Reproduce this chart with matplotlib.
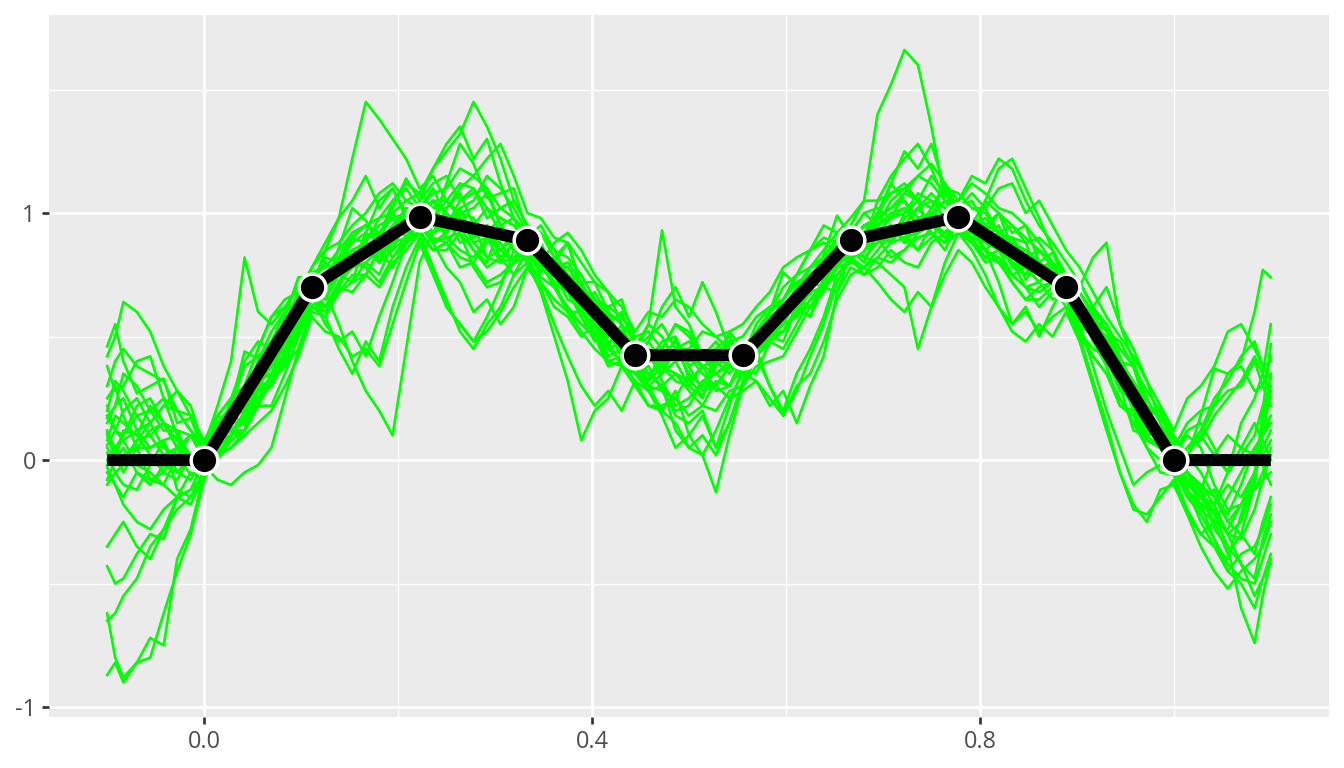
import matplotlib
matplotlib.use("Agg")
import matplotlib.pyplot as plt
from matplotlib.ticker import FixedLocator

# ---------------- data ----------------
x_grid = [-0.1, -0.0917, -0.0833, -0.0694, -0.0556, -0.0417, -0.0278, -0.0139, 0.0,
          0.0139, 0.0278, 0.0417, 0.0556, 0.0694, 0.0833, 0.0972, 0.1111,
          0.125, 0.1389, 0.1528, 0.1667, 0.1806, 0.1944, 0.2083, 0.2222,
          0.2361, 0.25, 0.2639, 0.2778, 0.2917, 0.3056, 0.3194, 0.3333,
          0.3472, 0.3611, 0.375, 0.3889, 0.4028, 0.4167, 0.4306, 0.4444,
          0.4583, 0.4722, 0.4861, 0.5, 0.5139, 0.5278, 0.5417, 0.5556,
          0.5694, 0.5833, 0.5972, 0.6111, 0.625, 0.6389, 0.6528, 0.6667,
          0.6806, 0.6944, 0.7083, 0.7222, 0.7361, 0.75, 0.7639, 0.7778,
          0.7917, 0.8056, 0.8194, 0.8333, 0.8472, 0.8611, 0.875, 0.8889,
          0.9028, 0.9167, 0.9306, 0.9444, 0.9583, 0.9722, 0.9861, 1.0,
          1.0139, 1.0278, 1.0417, 1.0556, 1.0694, 1.0833, 1.0917, 1.1]

sim_01 = [0.46, 0.55, 0.40, 0.27, 0.30, 0.33, 0.15, 0.17, 0.03, 0.02, 0.22, 0.44, 0.41, 0.40, 0.58, 0.74, 0.74, 0.70, 0.86, 1.02, 0.97, 0.88, 1.02, 1.14, 1.05, 0.96, 1.12, 1.28, 1.20, 1.06, 1.08, 1.10, 0.92, 0.76, 0.80, 0.88, 0.71, 0.57, 0.62, 0.65, 0.48, 0.34, 0.40, 0.49, 0.33, 0.26, 0.38, 0.52, 0.45, 0.43, 0.60, 0.76, 0.71, 0.67, 0.83, 0.99, 0.90, 0.84, 0.98, 1.12, 1.05, 0.94, 1.02, 1.12, 1.01, 0.88, 0.95, 1.00, 0.86, 0.73, 0.80, 0.84, 0.72, 0.56, 0.55, 0.53, 0.36, 0.20, 0.20, 0.20, 0.04, 0.01, 0.18, 0.37, 0.35, 0.40, 0.60, 0.77, 0.74]
sim_02 = [0.42, 0.50, 0.64, 0.60, 0.52, 0.38, 0.28, 0.22, 0.05, 0.18, 0.15, 0.16, 0.30, 0.45, 0.48, 0.50, 0.66, 0.55, 0.48, 0.52, 0.42, 0.58, 0.72, 0.88, 0.93, 0.85, 0.88, 0.95, 0.85, 0.80, 0.95, 0.98, 0.86, 0.74, 0.70, 0.70, 0.58, 0.48, 0.50, 0.52, 0.38, 0.32, 0.45, 0.55, 0.52, 0.42, 0.41, 0.45, 0.36, 0.35, 0.48, 0.60, 0.62, 0.58, 0.74, 0.85, 0.85, 0.80, 0.92, 0.95, 0.88, 0.98, 1.00, 0.90, 0.96, 0.98, 0.88, 0.92, 0.80, 0.70, 0.72, 0.78, 0.68, 0.55, 0.50, 0.45, 0.30, 0.12, 0.10, 0.12, -0.03, -0.05, -0.15, -0.18, -0.05, 0.15, 0.25, 0.35, 0.55]
sim_03 = [0.38, 0.28, 0.30, 0.40, 0.42, 0.25, 0.20, 0.18, 0.02, 0.08, 0.25, 0.30, 0.45, 0.58, 0.62, 0.60, 0.72, 0.82, 0.80, 0.78, 0.92, 1.05, 1.10, 1.00, 1.02, 1.10, 0.98, 0.88, 0.90, 0.95, 0.82, 0.75, 0.85, 0.82, 0.72, 0.60, 0.60, 0.58, 0.46, 0.55, 0.40, 0.30, 0.35, 0.40, 0.30, 0.25, 0.42, 0.48, 0.40, 0.52, 0.58, 0.55, 0.68, 0.78, 0.80, 0.78, 0.87, 0.95, 0.95, 0.88, 1.00, 1.05, 0.92, 0.85, 0.97, 0.92, 0.85, 0.90, 0.78, 0.75, 0.85, 0.78, 0.72, 0.62, 0.60, 0.55, 0.42, 0.30, 0.12, 0.10, 0.02, -0.08, -0.12, -0.22, -0.30, -0.25, -0.08, 0.20, 0.47]
sim_04 = [0.25, 0.30, 0.18, 0.05, 0.05, 0.08, -0.12, -0.15, -0.04, 0.08, 0.10, 0.12, 0.32, 0.48, 0.50, 0.52, 0.68, 0.65, 0.78, 0.90, 0.88, 0.80, 0.85, 0.98, 0.95, 0.92, 1.02, 1.08, 0.95, 0.82, 0.80, 0.88, 0.83, 0.78, 0.82, 0.88, 0.70, 0.58, 0.55, 0.60, 0.45, 0.40, 0.48, 0.50, 0.38, 0.28, 0.30, 0.38, 0.40, 0.50, 0.50, 0.48, 0.62, 0.72, 0.70, 0.68, 0.84, 0.92, 1.00, 1.12, 1.25, 1.18, 1.28, 1.10, 1.02, 1.05, 0.95, 0.85, 0.90, 0.88, 0.75, 0.80, 0.66, 0.52, 0.45, 0.42, 0.28, 0.30, 0.20, 0.08, 0.05, 0.15, 0.20, 0.22, 0.35, 0.38, 0.28, 0.30, 0.42]
sim_05 = [0.22, 0.12, 0.10, 0.22, 0.25, 0.15, 0.12, 0.00, -0.02, 0.12, 0.20, 0.22, 0.38, 0.42, 0.55, 0.68, 0.70, 0.62, 0.68, 0.75, 0.75, 0.85, 0.88, 0.90, 1.00, 1.05, 0.92, 1.02, 1.05, 1.15, 1.10, 1.02, 0.92, 0.88, 0.75, 0.65, 0.62, 0.68, 0.58, 0.50, 0.44, 0.45, 0.32, 0.22, 0.25, 0.32, 0.35, 0.38, 0.48, 0.45, 0.55, 0.62, 0.58, 0.70, 0.78, 0.80, 0.90, 0.82, 0.88, 0.95, 0.92, 0.85, 0.90, 0.98, 0.95, 0.88, 1.05, 1.18, 1.22, 1.10, 0.98, 0.85, 0.74, 0.62, 0.58, 0.52, 0.40, 0.38, 0.22, 0.05, -0.02, -0.15, -0.20, -0.25, -0.38, -0.30, -0.10, 0.15, 0.35]
sim_06 = [0.20, 0.32, 0.28, 0.18, 0.10, 0.15, 0.05, -0.02, 0.06, 0.22, 0.40, 0.82, 0.60, 0.55, 0.62, 0.70, 0.72, 0.80, 0.75, 0.72, 0.90, 0.95, 0.98, 0.90, 0.96, 1.00, 0.90, 0.85, 0.82, 0.90, 0.88, 0.80, 0.90, 0.95, 0.85, 0.75, 0.72, 0.72, 0.60, 0.48, 0.43, 0.55, 0.50, 0.40, 0.42, 0.38, 0.28, 0.30, 0.38, 0.45, 0.48, 0.45, 0.55, 0.65, 0.72, 0.85, 0.92, 0.90, 1.00, 1.08, 1.10, 1.05, 1.02, 1.10, 0.99, 0.95, 1.05, 1.00, 0.92, 0.95, 0.80, 0.75, 0.72, 0.62, 0.48, 0.38, 0.22, 0.20, 0.08, 0.05, -0.05, -0.12, -0.25, -0.35, -0.40, -0.22, -0.05, 0.10, 0.28]
sim_07 = [0.17, 0.22, 0.35, 0.30, 0.20, 0.25, 0.10, 0.00, 0.03, 0.15, 0.12, 0.12, 0.28, 0.42, 0.45, 0.50, 0.65, 0.60, 0.70, 0.80, 0.78, 0.72, 0.82, 0.90, 0.92, 0.85, 0.85, 0.92, 0.78, 0.70, 0.72, 0.80, 0.82, 0.72, 0.62, 0.58, 0.50, 0.55, 0.48, 0.38, 0.35, 0.38, 0.28, 0.20, 0.22, 0.32, 0.30, 0.25, 0.35, 0.45, 0.30, 0.18, 0.28, 0.42, 0.55, 0.72, 0.82, 0.75, 0.78, 0.85, 0.80, 0.78, 0.88, 0.92, 0.95, 0.88, 0.85, 0.82, 0.75, 0.70, 0.62, 0.68, 0.65, 0.55, 0.38, 0.20, 0.05, -0.10, -0.05, -0.02, 0.06, 0.02, 0.10, 0.22, 0.28, 0.30, 0.40, 0.30, 0.22]
sim_08 = [0.12, 0.00, 0.02, 0.05, -0.08, -0.05, 0.05, 0.02, -0.02, -0.08, -0.10, -0.05, -0.02, 0.05, 0.25, 0.45, 0.62, 0.58, 0.68, 0.72, 0.75, 0.85, 0.90, 0.98, 1.05, 1.12, 1.15, 1.05, 1.08, 1.10, 0.95, 0.88, 0.82, 0.80, 0.70, 0.62, 0.55, 0.52, 0.40, 0.38, 0.30, 0.22, 0.22, 0.25, 0.18, 0.22, 0.32, 0.30, 0.42, 0.55, 0.62, 0.65, 0.75, 0.85, 0.88, 0.85, 0.92, 1.00, 1.02, 0.98, 1.08, 1.15, 1.12, 1.05, 1.05, 1.12, 1.08, 1.02, 1.00, 0.95, 0.88, 0.80, 0.75, 0.72, 0.62, 0.52, 0.48, 0.38, 0.20, 0.18, 0.08, -0.05, -0.15, -0.12, -0.25, -0.18, -0.05, 0.05, 0.12]
sim_09 = [0.10, 0.02, -0.05, 0.05, 0.12, 0.15, 0.08, -0.02, 0.00, 0.12, 0.18, 0.20, 0.32, 0.45, 0.50, 0.62, 0.70, 0.68, 0.55, 0.40, 0.28, 0.20, 0.10, 0.45, 0.80, 0.92, 0.95, 1.05, 1.10, 0.98, 1.02, 0.98, 0.90, 0.85, 0.78, 0.70, 0.65, 0.62, 0.52, 0.42, 0.38, 0.35, 0.30, 0.18, 0.15, 0.20, 0.05, 0.15, 0.32, 0.45, 0.48, 0.52, 0.62, 0.58, 0.70, 0.78, 0.80, 0.88, 1.05, 1.15, 1.22, 1.28, 1.18, 1.05, 0.96, 0.90, 0.82, 0.80, 0.72, 0.65, 0.70, 0.72, 0.66, 0.60, 0.50, 0.42, 0.28, 0.25, 0.15, 0.05, 0.02, 0.10, 0.05, -0.10, -0.20, -0.18, -0.12, -0.05, 0.05]
sim_10 = [0.08, 0.18, 0.15, 0.10, 0.22, 0.15, 0.05, 0.10, 0.04, 0.12, 0.20, 0.25, 0.40, 0.52, 0.60, 0.65, 0.78, 0.88, 0.98, 1.22, 1.45, 1.38, 1.30, 1.22, 1.10, 1.15, 1.05, 0.98, 0.95, 1.02, 0.92, 0.85, 0.86, 0.80, 0.70, 0.72, 0.60, 0.52, 0.48, 0.50, 0.45, 0.50, 0.55, 0.45, 0.40, 0.42, 0.35, 0.30, 0.42, 0.48, 0.52, 0.62, 0.68, 0.70, 0.78, 0.80, 0.86, 0.95, 0.92, 0.88, 0.98, 1.02, 0.95, 1.00, 1.00, 0.92, 0.90, 0.95, 0.82, 0.78, 0.80, 0.75, 0.68, 0.58, 0.50, 0.48, 0.38, 0.28, 0.22, 0.10, 0.00, -0.08, -0.12, 0.02, 0.10, 0.05, 0.15, 0.08, 0.00]
sim_11 = [0.05, 0.00, 0.12, 0.10, 0.02, -0.05, -0.08, 0.02, -0.03, 0.05, 0.15, 0.28, 0.30, 0.32, 0.42, 0.58, 0.68, 0.70, 0.82, 0.92, 0.95, 0.90, 1.05, 1.12, 1.08, 1.18, 1.25, 1.32, 1.45, 1.35, 1.22, 1.05, 0.95, 0.92, 0.82, 0.75, 0.70, 0.65, 0.52, 0.50, 0.40, 0.32, 0.38, 0.45, 0.45, 0.38, 0.40, 0.48, 0.45, 0.52, 0.55, 0.60, 0.70, 0.78, 0.82, 0.80, 0.85, 0.92, 0.90, 0.88, 0.95, 1.02, 1.05, 0.98, 1.02, 1.08, 1.02, 0.92, 0.88, 0.85, 0.75, 0.78, 0.70, 0.60, 0.52, 0.45, 0.30, 0.22, 0.08, 0.05, -0.02, -0.12, -0.18, -0.20, -0.30, -0.32, -0.20, -0.08, -0.05]
sim_12 = [0.03, -0.05, -0.10, -0.12, -0.02, 0.08, 0.10, 0.02, 0.02, 0.10, 0.18, 0.15, 0.25, 0.35, 0.38, 0.55, 0.65, 0.62, 0.72, 0.82, 0.85, 0.80, 0.92, 1.00, 0.98, 0.88, 0.78, 0.72, 0.60, 0.65, 0.55, 0.62, 0.78, 0.85, 0.80, 0.72, 0.60, 0.55, 0.42, 0.45, 0.38, 0.35, 0.30, 0.12, 0.05, 0.10, 0.02, 0.15, 0.32, 0.42, 0.30, 0.20, 0.35, 0.45, 0.58, 0.75, 0.80, 0.78, 0.82, 0.88, 0.90, 0.92, 1.00, 0.95, 0.93, 0.88, 0.80, 0.82, 0.72, 0.65, 0.65, 0.70, 0.62, 0.50, 0.42, 0.35, 0.22, 0.18, 0.05, -0.05, -0.06, -0.20, -0.30, -0.35, -0.45, -0.38, -0.35, -0.28, -0.18]
sim_13 = [0.00, 0.05, 0.08, -0.02, -0.05, -0.10, -0.15, -0.05, -0.08, 0.05, 0.10, 0.18, 0.22, 0.22, 0.35, 0.50, 0.62, 0.70, 0.75, 0.72, 0.80, 0.85, 0.78, 0.88, 0.92, 0.78, 0.62, 0.55, 0.48, 0.58, 0.70, 0.85, 0.80, 0.68, 0.50, 0.32, 0.08, 0.20, 0.25, 0.38, 0.35, 0.28, 0.30, 0.35, 0.28, 0.22, 0.20, 0.28, 0.30, 0.38, 0.40, 0.42, 0.52, 0.62, 0.68, 0.78, 0.85, 0.88, 0.95, 1.00, 1.02, 0.95, 0.98, 1.05, 1.02, 0.95, 0.98, 0.92, 0.85, 0.80, 0.75, 0.78, 0.70, 0.68, 0.60, 0.45, 0.35, 0.25, 0.12, 0.12, 0.05, -0.05, -0.10, -0.18, -0.30, -0.42, -0.48, -0.32, -0.22]
sim_14 = [-0.02, 0.05, 0.10, 0.18, 0.20, 0.12, 0.12, 0.10, 0.05, 0.18, 0.25, 0.40, 0.48, 0.45, 0.55, 0.68, 0.75, 0.72, 0.82, 0.90, 0.95, 0.92, 1.00, 1.05, 1.02, 0.95, 0.98, 0.98, 0.88, 0.90, 0.80, 0.82, 0.88, 0.80, 0.75, 0.72, 0.65, 0.55, 0.50, 0.52, 0.46, 0.55, 0.93, 0.62, 0.55, 0.42, 0.38, 0.42, 0.40, 0.48, 0.52, 0.52, 0.60, 0.70, 0.75, 0.80, 0.88, 0.95, 0.98, 1.02, 1.08, 1.05, 1.15, 1.08, 1.00, 0.98, 0.92, 0.85, 0.80, 0.78, 0.72, 0.78, 0.74, 0.68, 0.58, 0.48, 0.40, 0.32, 0.22, 0.18, 0.08, -0.05, -0.12, -0.28, -0.35, -0.42, -0.55, -0.48, -0.38]
sim_15 = [-0.05, -0.10, -0.15, -0.05, -0.08, -0.10, 0.02, -0.06, -0.05, 0.08, 0.12, 0.15, 0.30, 0.42, 0.45, 0.52, 0.70, 0.68, 0.78, 0.85, 0.88, 0.98, 1.00, 0.92, 0.95, 0.90, 0.88, 0.78, 0.80, 0.88, 0.92, 0.85, 0.86, 0.80, 0.70, 0.60, 0.55, 0.50, 0.38, 0.40, 0.32, 0.22, 0.20, 0.15, 0.05, 0.02, -0.13, 0.10, 0.30, 0.42, 0.50, 0.55, 0.65, 0.62, 0.72, 0.80, 0.82, 0.78, 0.85, 0.92, 0.90, 0.85, 0.95, 0.92, 0.96, 0.95, 0.90, 0.88, 0.88, 0.82, 0.80, 0.75, 0.72, 0.62, 0.55, 0.42, 0.28, 0.25, 0.15, 0.05, -0.04, -0.15, -0.22, -0.32, -0.45, -0.50, -0.60, -0.48, -0.42]
sim_16 = [-0.08, 0.00, 0.05, -0.05, -0.10, -0.02, -0.05, -0.08, 0.02, 0.15, 0.22, 0.25, 0.38, 0.48, 0.52, 0.60, 0.72, 0.70, 0.80, 0.85, 0.88, 0.82, 0.95, 1.02, 1.00, 0.98, 1.05, 1.12, 1.10, 1.02, 0.98, 0.95, 0.88, 0.85, 0.78, 0.72, 0.62, 0.65, 0.58, 0.48, 0.42, 0.42, 0.35, 0.45, 0.42, 0.35, 0.30, 0.38, 0.45, 0.50, 0.55, 0.65, 0.72, 0.75, 0.80, 0.88, 0.88, 0.85, 0.90, 0.95, 0.88, 0.90, 0.92, 0.88, 0.98, 0.95, 0.88, 0.90, 0.80, 0.75, 0.78, 0.80, 0.70, 0.60, 0.62, 0.70, 0.55, 0.45, 0.32, 0.15, 0.02, -0.08, -0.15, -0.22, -0.35, -0.60, -0.74, -0.55, -0.40]
sim_17 = [-0.10, -0.05, -0.02, 0.08, 0.10, 0.02, 0.05, 0.10, 0.00, 0.05, 0.15, 0.22, 0.35, 0.38, 0.50, 0.62, 0.70, 0.75, 0.82, 0.80, 0.90, 0.92, 0.85, 0.90, 0.98, 1.05, 1.00, 0.95, 0.92, 0.95, 0.85, 0.80, 0.88, 0.85, 0.78, 0.70, 0.65, 0.62, 0.52, 0.45, 0.44, 0.48, 0.40, 0.42, 0.45, 0.52, 0.50, 0.45, 0.42, 0.48, 0.55, 0.58, 0.70, 0.78, 0.82, 0.90, 0.95, 1.05, 1.40, 1.52, 1.66, 1.60, 1.35, 1.05, 0.98, 1.02, 1.00, 0.92, 0.95, 0.90, 0.85, 0.80, 0.72, 0.60, 0.50, 0.45, 0.35, 0.22, 0.12, 0.08, 0.03, 0.12, 0.15, 0.05, -0.05, 0.02, 0.10, 0.22, 0.30]
sim_18 = [0.15, 0.22, 0.25, 0.12, 0.05, 0.08, -0.05, 0.02, -0.02, 0.10, 0.18, 0.20, 0.30, 0.40, 0.48, 0.55, 0.68, 0.65, 0.75, 0.82, 0.85, 0.80, 0.90, 0.98, 0.95, 0.88, 0.92, 1.00, 0.98, 0.90, 0.85, 0.92, 0.90, 0.82, 0.78, 0.80, 0.72, 0.62, 0.55, 0.50, 0.40, 0.48, 0.62, 0.70, 0.58, 0.72, 0.60, 0.45, 0.40, 0.45, 0.50, 0.55, 0.58, 0.65, 0.70, 0.78, 0.85, 0.82, 0.80, 0.75, 0.70, 0.45, 0.62, 0.80, 0.92, 0.88, 0.85, 0.80, 0.75, 0.78, 0.72, 0.65, 0.68, 0.62, 0.55, 0.48, 0.38, 0.30, 0.20, 0.08, 0.00, 0.05, 0.10, 0.02, -0.05, 0.05, 0.02, 0.10, 0.15]
sim_19 = [0.30, 0.40, 0.45, 0.38, 0.35, 0.32, 0.20, 0.12, 0.05, 0.15, 0.20, 0.30, 0.35, 0.42, 0.55, 0.65, 0.72, 0.70, 0.78, 0.85, 0.82, 0.92, 0.98, 1.00, 1.05, 1.18, 1.28, 1.35, 1.22, 1.30, 1.12, 0.98, 0.92, 0.85, 0.80, 0.78, 0.70, 0.65, 0.60, 0.55, 0.48, 0.42, 0.40, 0.45, 0.35, 0.30, 0.42, 0.38, 0.44, 0.52, 0.60, 0.65, 0.72, 0.75, 0.80, 0.85, 0.92, 0.90, 0.95, 0.98, 1.00, 1.08, 1.05, 1.02, 1.00, 0.98, 0.95, 0.92, 0.90, 0.82, 0.85, 0.80, 0.72, 0.70, 0.82, 0.88, 0.55, 0.40, 0.25, 0.15, 0.05, -0.05, -0.10, -0.15, -0.22, -0.10, 0.05, -0.02, -0.10]
sim_20 = [-0.35, -0.30, -0.25, -0.35, -0.40, -0.28, -0.20, -0.15, -0.05, 0.02, 0.10, 0.20, 0.28, 0.32, 0.45, 0.58, 0.66, 0.62, 0.72, 0.78, 0.80, 0.75, 0.88, 0.95, 0.96, 0.88, 0.90, 0.92, 0.85, 0.78, 0.82, 0.88, 0.84, 0.80, 0.88, 0.92, 0.85, 0.75, 0.68, 0.55, 0.40, 0.45, 0.38, 0.32, 0.30, 0.38, 0.35, 0.40, 0.45, 0.50, 0.58, 0.62, 0.68, 0.72, 0.75, 0.82, 0.86, 0.90, 0.92, 0.98, 1.02, 0.95, 1.00, 0.98, 0.92, 0.88, 0.82, 0.85, 0.75, 0.70, 0.68, 0.72, 0.65, 0.52, 0.42, 0.35, 0.25, 0.15, 0.05, 0.00, -0.05, 0.05, 0.12, 0.25, 0.32, 0.42, 0.48, 0.38, 0.40]
sim_21 = [-0.43, -0.50, -0.48, -0.38, -0.30, -0.32, -0.15, -0.18, -0.06, 0.00, 0.08, 0.12, 0.22, 0.35, 0.42, 0.50, 0.68, 0.75, 0.80, 0.78, 0.85, 0.90, 0.82, 0.88, 0.96, 1.05, 1.05, 1.00, 1.02, 1.08, 0.95, 0.88, 0.85, 0.80, 0.72, 0.68, 0.58, 0.50, 0.45, 0.48, 0.42, 0.35, 0.38, 0.45, 0.48, 0.42, 0.45, 0.50, 0.40, 0.42, 0.48, 0.58, 0.62, 0.68, 0.78, 0.82, 0.90, 0.85, 0.88, 0.92, 0.95, 1.02, 1.08, 1.02, 1.02, 0.95, 0.85, 0.72, 0.55, 0.62, 0.50, 0.62, 0.72, 0.62, 0.55, 0.50, 0.40, 0.28, 0.18, 0.10, 0.00, -0.12, -0.20, -0.18, -0.10, -0.15, -0.05, 0.02, 0.08]
sim_22 = [-0.62, -0.80, -0.88, -0.82, -0.80, -0.62, -0.45, -0.30, -0.08, 0.02, 0.05, 0.12, 0.25, 0.30, 0.40, 0.52, 0.62, 0.60, 0.70, 0.68, 0.75, 0.70, 0.80, 0.85, 0.92, 0.85, 0.88, 0.82, 0.80, 0.72, 0.75, 0.80, 0.85, 0.78, 0.72, 0.70, 0.62, 0.52, 0.45, 0.40, 0.38, 0.30, 0.20, 0.28, 0.10, 0.18, 0.05, 0.22, 0.38, 0.45, 0.50, 0.52, 0.60, 0.68, 0.70, 0.75, 0.82, 0.88, 0.90, 0.82, 0.85, 0.92, 0.95, 0.90, 0.95, 0.92, 0.88, 0.85, 0.82, 0.85, 0.80, 0.75, 0.70, 0.62, 0.50, 0.40, 0.32, 0.28, 0.18, 0.08, 0.02, -0.08, -0.18, -0.32, -0.42, -0.48, -0.50, -0.40, -0.30]
sim_23 = [-0.65, -0.62, -0.55, -0.48, -0.35, -0.28, -0.15, -0.12, 0.00, 0.05, 0.15, 0.28, 0.32, 0.35, 0.48, 0.62, 0.70, 0.85, 0.98, 1.05, 1.15, 1.02, 1.10, 0.98, 1.00, 0.92, 0.95, 1.02, 0.90, 0.92, 0.98, 0.95, 0.90, 0.85, 0.78, 0.75, 0.68, 0.60, 0.55, 0.52, 0.45, 0.40, 0.42, 0.48, 0.38, 0.42, 0.48, 0.40, 0.42, 0.52, 0.60, 0.70, 0.75, 0.78, 0.85, 0.92, 0.90, 0.92, 0.98, 1.02, 1.05, 0.98, 1.00, 1.05, 0.98, 0.95, 0.92, 1.00, 0.95, 0.88, 0.90, 0.85, 0.75, 0.60, 0.52, 0.48, 0.35, 0.20, 0.10, 0.05, -0.02, 0.05, 0.08, 0.18, 0.25, 0.32, 0.42, 0.35, 0.25]
sim_24 = [-0.87, -0.82, -0.90, -0.82, -0.72, -0.75, -0.40, -0.28, -0.05, 0.08, 0.12, 0.18, 0.30, 0.38, 0.48, 0.55, 0.70, 0.72, 0.80, 0.88, 0.92, 0.88, 0.95, 1.00, 0.98, 0.95, 0.92, 0.98, 0.88, 0.82, 0.85, 0.90, 0.86, 0.80, 0.75, 0.72, 0.66, 0.60, 0.58, 0.50, 0.45, 0.42, 0.38, 0.35, 0.32, 0.38, 0.40, 0.35, 0.42, 0.50, 0.55, 0.60, 0.68, 0.75, 0.80, 0.82, 0.88, 0.95, 0.92, 0.90, 0.98, 1.02, 0.96, 0.92, 0.98, 0.95, 0.90, 0.88, 0.80, 0.78, 0.75, 0.72, 0.70, 0.60, 0.50, 0.42, 0.30, 0.22, 0.15, 0.05, 0.00, -0.10, -0.15, -0.25, -0.28, -0.18, -0.12, -0.08, 0.02]
sim_25 = [0.06, 0.12, 0.20, 0.25, 0.15, 0.05, 0.02, 0.10, 0.04, 0.10, 0.22, 0.38, 0.42, 0.48, 0.60, 0.72, 0.76, 0.78, 0.85, 0.92, 0.95, 0.98, 1.05, 1.10, 1.02, 1.08, 1.10, 1.18, 1.15, 1.10, 1.02, 1.05, 0.95, 0.92, 0.85, 0.82, 0.75, 0.65, 0.62, 0.58, 0.50, 0.52, 0.45, 0.55, 0.50, 0.42, 0.40, 0.48, 0.50, 0.58, 0.62, 0.65, 0.75, 0.85, 0.90, 0.88, 0.92, 1.00, 0.95, 1.05, 1.10, 1.15, 1.20, 1.12, 1.05, 1.15, 1.12, 1.22, 1.18, 1.05, 0.95, 0.88, 0.80, 0.72, 0.62, 0.55, 0.45, 0.38, 0.28, 0.20, 0.10, 0.02, -0.05, -0.15, -0.25, -0.30, -0.38, -0.25, -0.15]
sim_26 = [-0.03, -0.10, -0.18, -0.25, -0.28, -0.20, -0.15, -0.12, -0.06, 0.02, 0.10, 0.12, 0.22, 0.32, 0.38, 0.45, 0.60, 0.58, 0.45, 0.35, 0.48, 0.40, 0.62, 0.78, 0.90, 0.78, 0.65, 0.52, 0.45, 0.55, 0.62, 0.75, 0.80, 0.72, 0.65, 0.60, 0.52, 0.45, 0.40, 0.42, 0.36, 0.30, 0.28, 0.25, 0.35, 0.30, 0.30, 0.38, 0.35, 0.32, 0.22, 0.28, 0.15, 0.30, 0.42, 0.68, 0.78, 0.75, 0.82, 0.80, 0.85, 0.90, 0.92, 0.88, 0.92, 0.85, 0.75, 0.62, 0.55, 0.60, 0.52, 0.58, 0.62, 0.50, 0.32, 0.15, -0.05, -0.20, -0.22, -0.15, -0.08, -0.22, -0.30, -0.25, -0.15, -0.05, 0.05, 0.10, 0.18]
sim_27 = [0.18, 0.12, 0.08, 0.12, 0.15, 0.22, 0.28, 0.18, 0.08, 0.18, 0.25, 0.30, 0.45, 0.58, 0.65, 0.68, 0.78, 0.85, 0.88, 0.95, 1.00, 1.08, 1.12, 1.05, 1.08, 1.02, 1.02, 1.10, 1.15, 1.22, 1.28, 1.15, 1.00, 0.98, 0.90, 0.88, 0.80, 0.72, 0.68, 0.62, 0.52, 0.60, 0.58, 0.65, 0.62, 0.55, 0.50, 0.52, 0.55, 0.62, 0.68, 0.78, 0.82, 0.85, 0.95, 0.92, 0.98, 1.05, 1.05, 1.08, 1.12, 1.05, 1.02, 1.10, 1.08, 1.02, 1.02, 1.10, 1.12, 1.00, 1.05, 0.95, 0.85, 0.78, 0.68, 0.58, 0.50, 0.42, 0.32, 0.22, 0.12, 0.25, 0.30, 0.38, 0.52, 0.55, 0.45, 0.38, 0.33]
sim_28 = [0.11, 0.05, 0.00, 0.08, 0.15, 0.22, 0.20, 0.12, 0.06, 0.02, 0.05, 0.10, 0.15, 0.20, 0.30, 0.42, 0.58, 0.52, 0.50, 0.42, 0.45, 0.38, 0.55, 0.72, 0.88, 0.75, 0.62, 0.55, 0.48, 0.52, 0.60, 0.70, 0.78, 0.70, 0.55, 0.42, 0.30, 0.22, 0.28, 0.20, 0.32, 0.28, 0.18, 0.05, 0.10, 0.02, 0.12, 0.25, 0.28, 0.32, 0.25, 0.18, 0.30, 0.35, 0.48, 0.65, 0.75, 0.78, 0.72, 0.65, 0.60, 0.68, 0.62, 0.75, 0.85, 0.80, 0.70, 0.62, 0.52, 0.48, 0.55, 0.50, 0.60, 0.48, 0.30, 0.12, -0.05, -0.18, -0.25, -0.12, -0.10, -0.22, -0.35, -0.45, -0.52, -0.45, -0.40, -0.35, -0.25]

sims = [sim_01, sim_02, sim_03, sim_04, sim_05, sim_06, sim_07, sim_08, sim_09, sim_10,
        sim_11, sim_12, sim_13, sim_14, sim_15, sim_16, sim_17, sim_18, sim_19, sim_20,
        sim_21, sim_22, sim_23, sim_24, sim_25, sim_26, sim_27, sim_28]

# true curve (black), with knots
line_x = [-0.1, 0.0, 0.1111, 0.2222, 0.3333, 0.4444, 0.5556, 0.6667, 0.7778, 0.8889, 1.0, 1.1]
line_y = [0.0, 0.0, 0.70, 0.985, 0.89, 0.425, 0.425, 0.89, 0.985, 0.70, 0.0, 0.0]
knot_x = [0.0, 0.1111, 0.2222, 0.3333, 0.4444, 0.5556, 0.6667, 0.7778, 0.8889, 1.0]
knot_y = [0.0, 0.70, 0.985, 0.89, 0.425, 0.425, 0.89, 0.985, 0.70, 0.0]

x_major = [0.0, 0.4, 0.8]
x_labels = ["0.0", "0.4", "0.8"]
x_minor = [0.2, 0.6, 1.0]
y_major = [-1, 0, 1]
y_labels = ["-1", "0", "1"]
y_minor = [-0.5, 0.5, 1.5]

# ---------------- figure ----------------
plt.rcParams['font.family'] = ['Open Sans', 'DejaVu Sans']
W, H = 1344, 768
fig = plt.figure(figsize=(7, 4), dpi=192)
fig.patch.set_facecolor('white')
left, right, top, bottom = 49, 1329, 14.7, 717
ax = fig.add_axes([left / W, 1 - bottom / H, (right - left) / W, (bottom - top) / H])
ax.set_facecolor('#EBEBEB')
for s in ax.spines.values():
    s.set_visible(False)

ax.set_xlim(-0.16, 1.16)
ax.set_ylim(-1.04, 1.803)

ax.xaxis.set_major_locator(FixedLocator(x_major))
ax.xaxis.set_minor_locator(FixedLocator(x_minor))
ax.yaxis.set_major_locator(FixedLocator(y_major))
ax.yaxis.set_minor_locator(FixedLocator(y_minor))
ax.set_xticklabels(x_labels)
ax.set_yticklabels(y_labels)

ax.grid(which='major', color='white', linewidth=1.0)
ax.grid(which='minor', color='white', linewidth=0.5)
ax.set_axisbelow(True)

ax.tick_params(which='major', length=2.75, width=1.0, color='#333333',
               labelsize=8.8, labelcolor='#4D4D4D', pad=2.2)
ax.tick_params(which='minor', length=0)

for s in sims:
    n = min(len(s), len(x_grid))
    ax.plot(x_grid[:n], s[:n], color='#00FF00', linewidth=1.0, zorder=2)

ax.plot(line_x, line_y, color='black', linewidth=4.5, zorder=3, solid_capstyle='butt')
ax.plot(knot_x, knot_y, linestyle='none', marker='o', markersize=10,
        markerfacecolor='black', markeredgecolor='white', markeredgewidth=1.3, zorder=4)

fig.savefig('out.png', dpi=192, facecolor='white')
